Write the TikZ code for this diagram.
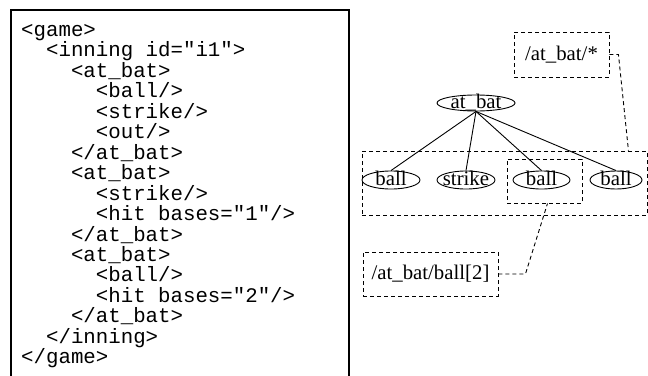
\documentclass[tikz,border=0pt]{standalone}
\usepackage{fontspec}
\setmainfont{Liberation Serif}
\newfontfamily\codefont{Liberation Mono}
\usetikzlibrary{shapes.geometric}
\newcommand{\inell}[1]{\smash{\makebox[0pt]{\raisebox{-.25em}{#1}}}}

\begin{document}
\begin{tikzpicture}[x=1pt, y=-1pt, font=\fontsize{20.8}{24}\selectfont,
  elt/.style={draw, ellipse, inner sep=0pt, minimum height=18pt, line width=.9pt},
  qbox/.style={draw, dash pattern=on 4pt off 3pt, line width=.9pt, inner sep=0pt},
  qline/.style={dash pattern=on 4pt off 3pt, line width=.9pt},
  codeline/.style={anchor=base west, inner sep=0pt, font=\fontsize{20.75}{20}\codefont}]
\useasboundingbox (0,0) rectangle (648,375);

% the document
\draw[line width=2.6pt] (11,376) -- (11,10) -- (349,10) -- (349,376);
\foreach \lev/\txt [count=\i from 0] in {0/{<game>}, 1/{<inning id="i1">},
    2/{<at\_bat>}, 3/{<ball/>}, 3/{<strike/>}, 3/{<out/>}, 2/{</at\_bat>},
    2/{<at\_bat>}, 3/{<strike/>}, 3/{<hit bases="1"/>}, 2/{</at\_bat>},
    2/{<at\_bat>}, 3/{<ball/>}, 3/{<hit bases="2"/>}, 2/{</at\_bat>},
    1/{</inning>}, 0/{</game>}}
  \node[codeline] (code\i) at (21+24.9*\lev, 36.5+20.45*\i) {\txt};

% the tree
\node[elt, minimum width=78pt, minimum height=16pt] (atbat) at (476,103) {\inell{at\_bat}};
\node[elt, minimum width=58pt] (b1) at (391,180) {\inell{ball}};
\node[elt, minimum width=58pt] (b2) at (466,180) {\inell{strike}};
\node[elt, minimum width=57pt] (b3) at (541.5,180) {\inell{ball}};
\node[elt, minimum width=52pt] (b4) at (616,180) {\inell{ball}};
\foreach \b in {b1,b2,b3,b4}
  \draw[line width=.9pt] (atbat.south) -- (\b.north);

% the selections
\node[qbox, minimum width=285pt, minimum height=64pt] (all) at (504.5,183) {};
\node[qbox, minimum width=75pt, minimum height=44pt] (sel) at (544.5,181) {};
\node[qbox, minimum width=95pt, minimum height=45pt] (q1) at (561.5,54.5) {/at\_bat/*};
\node[qbox, minimum width=135pt, minimum height=44pt] (q2) at (430.5,274) {/at\_bat/ball[2]};
\draw[qline] (q1.east) -- ++(9,0) -- ([xshift=-19pt]all.north east);
\draw[qline] (q2.east) -- ++(27,0) -- ([xshift=3pt]sel.south);
\end{tikzpicture}
\end{document}
